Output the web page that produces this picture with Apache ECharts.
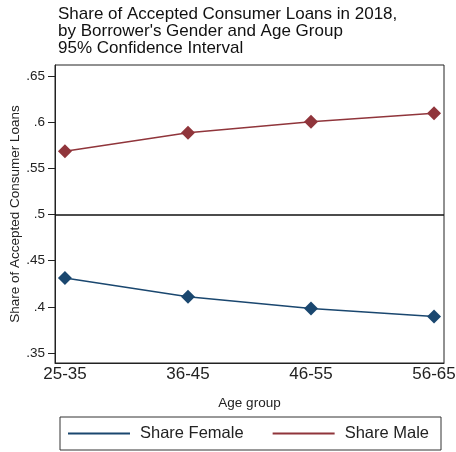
<!DOCTYPE html>
<html><head><meta charset="utf-8">
<script src="https://cdn.jsdelivr.net/npm/echarts@6/dist/echarts.min.js"></script>
<style>html,body{margin:0;padding:0;background:#fff}#c{width:456px;height:452px}</style>
</head><body><div id="c"></div>
<script>
const categories = ['25-35', '36-45', '46-55', '56-65'];
const shareFemale = [0.4312, 0.4109, 0.3982, 0.3895];
const shareMale = [0.5685, 0.5884, 0.6003, 0.6095];
const yTickValues = [0.35, 0.4, 0.45, 0.5, 0.55, 0.6, 0.65];
const yTickLabels = ['.35', '.4', '.45', '.5', '.55', '.6', '.65'];
const refLine = 0.5;

const font = 'Arial, "Liberation Sans", sans-serif';
const chart = echarts.init(document.getElementById('c'), null, {renderer: 'canvas'});
const xIdx = categories.map((c, i) => i);
chart.setOption({
  backgroundColor: '#fff',
  animation: false,
  title: {
    text: "Share of Accepted Consumer Loans in 2018,\nby Borrower's Gender and Age Group\n95% Confidence Interval",
    left: 58, top: 6, padding: 0,
    textStyle: {fontFamily: font, fontSize: 17, fontWeight: 'normal', color: '#111', lineHeight: 17}
  },
  grid: {left: 55, right: 12, top: 65, bottom: 89, show: true, borderColor: '#222', borderWidth: 1,
         containLabel: false, outerBoundsMode: 'none'},
  xAxis: {
    type: 'value', min: -0.081, max: 3.081,
    name: 'Age group', nameLocation: 'middle', nameGap: 33, nameMoveOverlap: false,
    nameTextStyle: {fontFamily: font, fontSize: 13.5, color: '#222'},
    axisLine: {show: true, onZero: false, lineStyle: {color: '#222'}},
    axisTick: {show: false},
    splitLine: {show: false},
    axisLabel: {
      customValues: xIdx, margin: 3,
      fontFamily: font, fontSize: 17, color: '#222',
      formatter: v => categories[Math.round(v)]
    }
  },
  yAxis: {
    type: 'value', min: 0.3393, max: 0.6617,
    name: 'Share of Accepted Consumer Loans', nameLocation: 'middle', nameGap: 33, nameMoveOverlap: false,
    nameTextStyle: {fontFamily: font, fontSize: 13.5, color: '#222'},
    axisLine: {show: true, onZero: false, lineStyle: {color: '#222'}},
    axisTick: {show: true, customValues: yTickValues, length: 7, lineStyle: {color: '#222'}},
    splitLine: {show: false},
    axisLabel: {
      customValues: yTickValues, margin: 10,
      fontFamily: font, fontSize: 13.5, color: '#222',
      formatter: v => { const i = yTickValues.findIndex(t => Math.abs(t - v) < 1e-6); return i >= 0 ? yTickLabels[i] : ''; }
    }
  },
  legend: {
    left: 60, top: 417,
    orient: 'horizontal',
    padding: [8, 12, 8, 8],
    borderColor: '#333', borderWidth: 1,
    itemGap: 29, itemWidth: 62, itemHeight: 2,
    textStyle: {fontFamily: font, fontSize: 16.5, color: '#222', padding: [0, 0, 0, 5]},
    data: [{name: 'Share Female', icon: 'rect'}, {name: 'Share Male', icon: 'rect'}]
  },
  series: [
    {
      name: 'Share Female', type: 'line',
      data: shareFemale.map((v, i) => [i, v]),
      symbol: 'diamond', symbolSize: 14,
      itemStyle: {color: '#1a476f'}, lineStyle: {color: '#1a476f', width: 1.5},
      markLine: {
        silent: true, symbol: 'none', label: {show: false},
        lineStyle: {color: '#111', type: 'solid', width: 1.5},
        data: [{yAxis: refLine}]
      }
    },
    {
      name: 'Share Male', type: 'line',
      data: shareMale.map((v, i) => [i, v]),
      symbol: 'diamond', symbolSize: 14,
      itemStyle: {color: '#90353b'}, lineStyle: {color: '#90353b', width: 1.5}
    }
  ]
});
</script>
</body></html>
